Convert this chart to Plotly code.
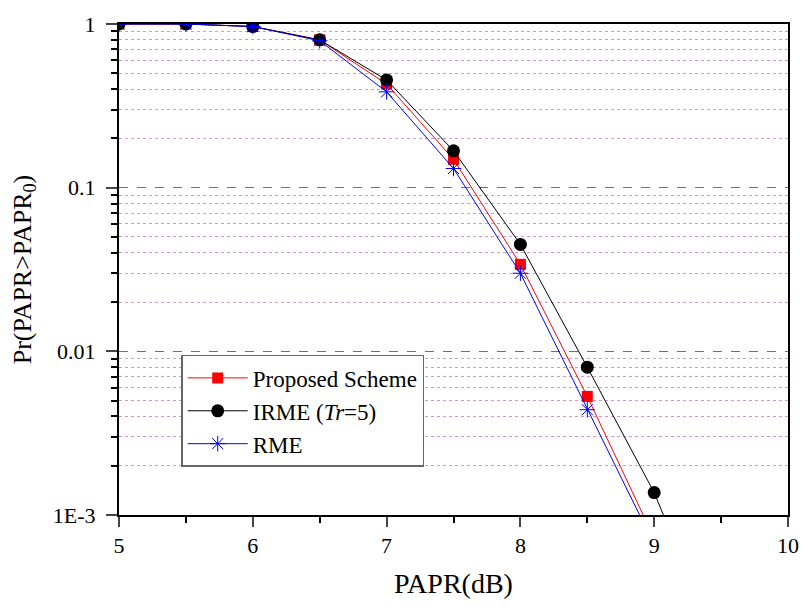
import plotly.graph_objects as go

papr = [5, 5.5, 6, 6.5, 7, 7.5, 8, 8.5, 9, 9.5]
proposed = [1.0, 1.0, 0.965, 0.80, 0.43, 0.149, 0.034, 0.0053, 0.00072, None]
irme = [1.0, 1.0, 0.965, 0.80, 0.455, 0.168, 0.045, 0.008, 0.00137, 0.00014]
rme = [1.0, 1.0, 0.965, 0.79, 0.385, 0.131, 0.030, 0.0044, 0.00066, None]

y_ticks = [1, 0.1, 0.01, 0.001]
y_ticktext = ["1", "0.1", "0.01", "1E-3"]
x_ticks = [5, 6, 7, 8, 9, 10]
x_minor = [5.5, 6.5, 7.5, 8.5, 9.5]

font = "Liberation Serif, Times New Roman, serif"

fig = go.Figure()
fig.add_trace(go.Scatter(x=papr, y=proposed, name="Proposed Scheme", mode="lines+markers",
                         line=dict(color="red", width=1),
                         marker=dict(symbol="square", size=11, color="red")))
fig.add_trace(go.Scatter(x=papr, y=irme, name="IRME (<i>Tr</i>=5)", mode="lines+markers",
                         line=dict(color="black", width=1),
                         marker=dict(symbol="circle", size=13, color="black")))
fig.add_trace(go.Scatter(x=papr, y=rme, name="RME", mode="lines+markers",
                         line=dict(color="blue", width=1),
                         marker=dict(symbol="asterisk-open", size=13, color="blue",
                                     line=dict(color="blue", width=1))))

minor_y = []
for d in [0.001, 0.01, 0.1]:
    for k in range(2, 10):
        minor_y.append(d * k)

fig.update_layout(
    width=811, height=606,
    margin=dict(l=119, r=16, t=18, b=91),
    paper_bgcolor="white", plot_bgcolor="white",
    font=dict(family=font, size=22, color="black"),
    showlegend=True,
    legend=dict(x=0.093, y=0.326, xanchor="left", yanchor="top",
                bordercolor="#666666", borderwidth=1.5, bgcolor="white",
                font=dict(family=font, size=23), tracegroupgap=0, itemwidth=60),
)
fig.update_xaxes(
    range=[5, 10], tickvals=x_ticks, ticks="outside", ticklen=10, tickwidth=1.5,
    showline=True, linecolor="black", linewidth=2, mirror=True, showgrid=False, zeroline=False,
    minor=dict(tickvals=x_minor, ticks="outside", ticklen=6, tickwidth=1.5, tickcolor="black"),
    title=dict(text="PAPR(dB)", font=dict(family=font, size=28), standoff=16),
    tickfont=dict(family=font, size=22),
)
fig.update_yaxes(
    type="log", range=[-3, 0], tickvals=y_ticks, ticktext=y_ticktext, ticks="outside",
    ticklen=11, tickwidth=1.5, ticklabelstandoff=6,
    showline=True, linecolor="black", linewidth=2, mirror=True,
    showgrid=True, gridcolor="#b040c0", griddash="dash", gridwidth=1,
    minor=dict(tickvals=minor_y, ticks="outside", ticklen=6, tickwidth=1.5, tickcolor="black",
               showgrid=True, gridcolor="rgba(190,90,190,0.65)", griddash="dot", gridwidth=1),
    title=dict(text="Pr(PAPR>PAPR<sub>0</sub>)", font=dict(family=font, size=26), standoff=14),
    tickfont=dict(family=font, size=22),
)
fig.write_html("out.html")
